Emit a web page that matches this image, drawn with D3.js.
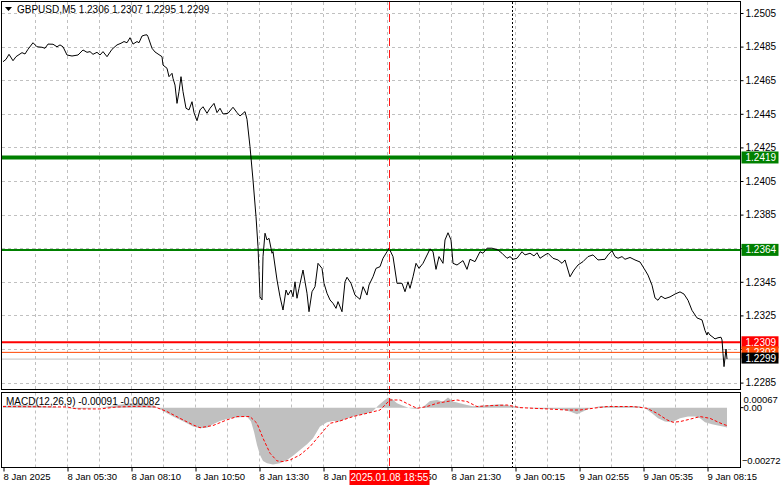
<!DOCTYPE html>
<html><head><meta charset="utf-8">
<script src="https://cdn.jsdelivr.net/npm/d3@7/dist/d3.min.js"></script>
<style>body{margin:0;background:#fff}svg{display:block;font-family:"Liberation Sans",Arial,sans-serif}</style>
</head><body><svg id="c" width="781" height="489"></svg>
<script>
// ---------- DATA ----------
const symbolTitle = "GBPUSD,M5  1.2306 1.2307 1.2295 1.2299";
const macdTitle = "MACD(12,26,9) -0.00091 -0.00082";
const cursorLabel = "2025.01.08 18:55";
const cursorBar = 193;
const separatorBar = 254.5;

const priceBars = [0,1.5,3,5,6.5,8,9.5,11,12.5,15,17,19.5,21,22.5,25,27,28.5,30,32,34.5,37.5,40,42,43.5,45,47,48.5,50,52,54.5,57,59,60.5,62,63.5,65,67,68,69.5,71,72,72.5,74.5,76,77.5,79.5,80,82,83,84.5,85,86,87,88,89,90,91.5,93,94.5,95.5,97,98.5,100,102,103.5,105.5,107,108.5,110,112.5,115,117,118.5,121,122,123.5,125,126.5,127.5,128.5,129.5,130,131,132,133,134.5,135,137,138.5,140,141.5,142.5,144,145,146,147,148,150,152,153,154.5,156,157.5,159.5,160.5,162,163.5,165,166.5,167.5,169.5,171,172,174,176,178.5,180,182,183,185,186.5,188.5,190,192,193,195,197,199.5,201,202.5,203.5,205,206.5,208,210,213.5,215,216.5,218,220,221,222.5,224,225,227,230,232,233.5,236,238.5,240,242,244.5,247.5,249.5,252,253.5,255,257,259.5,261,263.5,265.5,267,268.5,271,272.5,275,277.5,279.5,281,283.5,285.5,287.5,290,292.5,295,297.5,301,302.5,304.5,306,307.5,309.5,311,313.5,316,318.5,320.5,322.5,324.5,326,327.5,329,331,333.5,336,338.5,340.5,342.5,344.5,347,349.5,351,352,352.5,353.5,355,356,357.5,359,359.5,360,360.5,361.5,362];
const closes = [1.2476,1.24774,1.24804,1.24766,1.2479,1.24802,1.24814,1.24806,1.24834,1.24873,1.24849,1.24846,1.2484,1.24865,1.24864,1.24849,1.2486,1.24849,1.248,1.24794,1.248,1.2483,1.24816,1.2482,1.24804,1.24816,1.248,1.2482,1.2479,1.24834,1.2486,1.2487,1.2488,1.24873,1.24903,1.24865,1.2488,1.24873,1.24913,1.24919,1.2492,1.24909,1.2484,1.24818,1.24806,1.2479,1.2474,1.24721,1.24671,1.24691,1.24661,1.24621,1.24512,1.24582,1.24671,1.24582,1.24483,1.24473,1.24522,1.24457,1.24409,1.24473,1.24492,1.24453,1.24483,1.24512,1.24457,1.24483,1.24449,1.24453,1.24489,1.24457,1.24437,1.24463,1.24417,1.24254,1.24056,1.23838,1.23659,1.23361,1.23342,1.236,1.23739,1.23699,1.23709,1.2362,1.2363,1.23461,1.23361,1.23282,1.23401,1.23371,1.23401,1.23361,1.2345,1.23352,1.23411,1.2352,1.23382,1.23272,1.23391,1.23421,1.2356,1.2353,1.23441,1.23382,1.23342,1.23322,1.23292,1.23332,1.23272,1.2345,1.23477,1.23441,1.23371,1.23346,1.23421,1.23371,1.23431,1.2348,1.2353,1.2354,1.2359,1.23629,1.2365,1.236,1.23441,1.23441,1.23391,1.2345,1.23411,1.2348,1.2356,1.2353,1.2356,1.23645,1.2363,1.23524,1.236,1.2356,1.23699,1.23742,1.23699,1.2356,1.2355,1.23576,1.23524,1.23584,1.2357,1.23629,1.2362,1.2365,1.2365,1.23639,1.2362,1.2359,1.236,1.23584,1.2359,1.23629,1.2361,1.2362,1.23604,1.23623,1.2359,1.2361,1.2362,1.2359,1.2358,1.2356,1.2358,1.2348,1.2352,1.2355,1.2357,1.236,1.2361,1.2358,1.23584,1.2361,1.23635,1.236,1.2359,1.236,1.23584,1.23595,1.2358,1.23568,1.2353,1.2349,1.2343,1.23354,1.2334,1.23365,1.2335,1.2336,1.23377,1.2339,1.23377,1.2334,1.2328,1.23235,1.23223,1.2316,1.23133,1.2315,1.23133,1.2312,1.2311,1.23117,1.2312,1.23104,1.23024,1.22945,1.2305,1.2299];

const priceTicks = [1.2505,1.2485,1.2465,1.2445,1.2425,1.2405,1.2385,1.2365,1.2345,1.2325,1.2305,1.2285];
const levelPrices = [1.2419,1.2364,1.2309,1.2303,1.2299];

const timeLabelBars = [0,32,64,96,128,160,192,224,256,288,320,352];
const timeLabels = ["8 Jan 2025","8 Jan 05:30","8 Jan 08:10","8 Jan 10:50","8 Jan 13:30","8 Jan 16:10","8 Jan 18:50","8 Jan 21:30","9 Jan 00:15","9 Jan 02:55","9 Jan 05:35","9 Jan 08:15"];

const histBars = [0,8.5,18.5,26,32,38.5,48.5,57,63.5,71,75,78.5,82,85,88.5,92,95,98.5,102,105,108.5,112,115,118.5,122,124,125.5,127,128.5,130,132,135,138.5,142,145,148.5,152,155,158.5,162,165,168.5,172,175,178.5,182,185,187.5,190,192.5,194.5,197,200,203.5,207,210,213.5,217,220,222.5,225,228.5,232,235,238.5,243.5,248.5,253.5,258.5,263.5,271,278.5,283.5,287,290,293.5,298.5,306,313.5,318.5,321,324.5,327.5,331,334.5,338.5,342.5,346,348.5,351,354.5,357.5,360,362];
const histValues = [0.00009,0.00012,0.00009,0.00003,-0.00003,-0.00006,0,0.00012,0.0002,0.0002,0.00012,-0.00006,-0.00026,-0.00041,-0.00056,-0.00072,-0.00087,-0.00095,-0.00092,-0.00076,-0.00061,-0.00052,-0.00046,-0.00044,-0.00041,-0.00064,-0.0011,-0.00171,-0.00217,-0.00244,-0.00255,-0.0026,-0.00255,-0.0024,-0.0022,-0.00194,-0.00168,-0.0014,-0.00087,-0.00067,-0.00061,-0.00064,-0.00049,-0.00041,-0.00034,-0.00026,-0.00015,0.00009,0.00028,0.00046,0.0004,0.0002,0.00009,-0.00003,-0.00006,0.00003,0.0003,0.00035,0.00028,0.00046,0.00028,0.0002,0.00012,0.00006,0.00009,0.00012,0.00015,0.00009,0.00003,-0.00003,-0.00006,-0.00006,-0.00018,-0.0003,-0.00018,-0.00003,0.00006,0.00008,0.00008,0.00006,-0.00003,-0.00026,-0.00049,-0.00064,-0.00067,-0.00049,-0.00041,-0.00041,-0.00049,-0.00067,-0.00076,-0.00082,-0.00087,-0.00091];

const signalBars = [0,32,37,48.5,57,68.5,76,82,88.5,95,98.5,105,112,117,123.5,127,130,133.5,137,140,143.5,148.5,153.5,158.5,163.5,168.5,175,182,188.5,193.5,198.5,203.5,207,212,217,222,227,232,237,243.5,252,258.5,272,282,288.5,295,302,315,322,327,332,335,338.5,343.5,348.5,353.5,357,360,362];
const signalValues = [0.00005,0.00003,-0.00006,-0.00006,0.00003,0.00006,0.00003,-0.00018,-0.00049,-0.00079,-0.00092,-0.00082,-0.00056,-0.00041,-0.00041,-0.00072,-0.0014,-0.00209,-0.00244,-0.00247,-0.0024,-0.00217,-0.00179,-0.00125,-0.00072,-0.00061,-0.00041,-0.00026,-0.00011,0.00035,0.00035,0.00012,-0.00003,0.00005,0.0002,0.00028,0.00035,0.00028,0.00005,0.00009,0.00012,0,-0.00006,-0.00011,-0.00011,-0.00003,0.00005,0.00005,-0.00003,-0.00026,-0.00056,-0.00067,-0.00064,-0.00053,-0.00041,-0.00049,-0.00064,-0.00076,-0.00082];
const macdTicks = [0.00067,0,-0.00272];

// ---------- LAYOUT ----------
const L = 2, R = 740.5, mainTop = 2, mainBot = 389.5, mTop = 392.5, mBot = 467.5;
const FS = 9.5;
const svg = d3.select("#c");
const x = d3.scaleLinear().domain([0, 368]).range([3, 739]);
const y = d3.scaleLinear().domain([1.2285, 1.2505]).range([382.6, 13]);
const ym = d3.scaleLinear().domain([-0.00272, 0.00067]).range([467, 393]);
const gridCol = "#c0c0c0";

svg.append("rect").attr("width",781).attr("height",489).attr("fill","#fff");
const defs = svg.append("defs");
defs.append("clipPath").attr("id","cm").append("rect").attr("x",L).attr("y",mainTop).attr("width",R-L).attr("height",mainBot-mainTop);
defs.append("clipPath").attr("id","cd").append("rect").attr("x",L).attr("y",mTop).attr("width",R-L).attr("height",mBot-mTop);

// vertical grid (every 16 bars)
const vGrid = d3.range(16, 368, 16);
[[mainTop,mainBot],[mTop,mBot]].forEach(([t,b])=>{
  svg.append("g").selectAll("line").data(vGrid).join("line")
    .attr("x1",d=>Math.round(x(d))+0.5).attr("x2",d=>Math.round(x(d))+0.5)
    .attr("y1",t).attr("y2",b).attr("stroke",gridCol).attr("stroke-dasharray","3,3");
});
// horizontal grid
svg.append("g").selectAll("line").data(priceTicks).join("line")
  .attr("x1",L).attr("x2",R).attr("y1",d=>Math.round(y(d))+0.5).attr("y2",d=>Math.round(y(d))+0.5)
  .attr("stroke",gridCol).attr("stroke-dasharray","3,3");

// level lines
const levelColors = ["#008000","#008000","#ff0000","#ff4500","#c0c0c0"];
const levelWidths = [4,2,2,1,1];
const gl = svg.append("g").attr("clip-path","url(#cm)");
gl.selectAll("line").data(levelPrices).join("line")
  .attr("x1",L).attr("x2",R).attr("y1",d=>y(d)).attr("y2",d=>y(d))
  .attr("stroke",(d,i)=>levelColors[i]).attr("stroke-width",(d,i)=>levelWidths[i]);

// separators
svg.append("line").attr("x1",Math.round(x(separatorBar))+0.5).attr("x2",Math.round(x(separatorBar))+0.5)
  .attr("y1",mainTop).attr("y2",mBot).attr("stroke","#000").attr("stroke-dasharray","2,2");

// price line
const priceData = priceBars.map((b,i)=>[b,closes[i]]);
svg.append("path").datum(priceData).attr("clip-path","url(#cm)")
  .attr("d",d3.line().x(d=>x(d[0])).y(d=>y(d[1])))
  .attr("fill","none").attr("stroke","#000").attr("stroke-width",1);

// MACD histogram
const histData = histBars.map((b,i)=>[b,histValues[i]]);
svg.append("path").datum(histData).attr("clip-path","url(#cd)")
  .attr("d",d3.area().x(d=>x(d[0])).y0(ym(0)).y1(d=>ym(d[1])))
  .attr("fill","#c0c0c0");
const sigData = signalBars.map((b,i)=>[b,signalValues[i]]);
svg.append("path").datum(sigData).attr("clip-path","url(#cd)")
  .attr("d",d3.line().x(d=>x(d[0])).y(d=>ym(d[1])))
  .attr("fill","none").attr("stroke","#ff0000").attr("stroke-width",1).attr("stroke-dasharray","3,2");

// cursor line
svg.append("line").attr("x1",Math.round(x(cursorBar))+0.5).attr("x2",Math.round(x(cursorBar))+0.5)
  .attr("y1",mainTop).attr("y2",mBot).attr("stroke","#ff0000").attr("stroke-dasharray","8,4").attr("opacity",0.9);

// frames
svg.append("rect").attr("x",1.5).attr("y",1.5).attr("width",R-1.5).attr("height",mainBot-1.5).attr("fill","none").attr("stroke","#000");
svg.append("rect").attr("x",1.5).attr("y",mTop).attr("width",R-1.5).attr("height",mBot-mTop).attr("fill","none").attr("stroke","#000");

// price axis
const ax = svg.append("g").attr("transform",`translate(${R},0)`)
  .call(d3.axisRight(y).tickValues(priceTicks).tickSize(3).tickPadding(2).tickFormat(d3.format(".4f")));
ax.select(".domain").remove();
ax.selectAll("text").attr("font-size",10).attr("fill","#000").attr("font-family",null);
ax.selectAll("line").attr("stroke","#000");

// level labels (boxes)
const boxFill = ["#008000","#008000","#ff0000","#ff4500","#000000"];
const lb = svg.append("g");
levelPrices.forEach((p,i)=>{
  if (i===4) return;
  const g = lb.append("g").attr("transform",`translate(${R+1},${y(p)})`);
  g.append("rect").attr("x",0).attr("y",-6).attr("width",37).attr("height",12).attr("fill",boxFill[i]);
  g.append("text").attr("x",4).attr("y",0).attr("dy","0.35em").attr("font-size",10).attr("fill","#fff").text(d3.format(".4f")(p));
});
{
  const p = levelPrices[4];
  const g = lb.append("g").attr("transform",`translate(${R+1},${y(p)-1})`);
  g.append("rect").attr("x",0).attr("y",-5.5).attr("width",37).attr("height",11).attr("fill","#000");
  g.append("text").attr("x",4).attr("y",0).attr("dy","0.35em").attr("font-size",10).attr("fill","#fff").text(d3.format(".4f")(p));
}

// MACD axis
const mx = svg.append("g");
mx.append("text").attr("x",R+3).attr("y",ym(macdTicks[0])+7).attr("dy","0.35em").attr("font-size",FS).text(d3.format(".5f")(macdTicks[0]));
mx.append("line").attr("x1",R).attr("x2",R+3).attr("y1",ym(0)).attr("y2",ym(0)).attr("stroke","#000");
mx.append("text").attr("x",R+3).attr("y",ym(0)).attr("dy","0.35em").attr("font-size",FS).text("0.00");
mx.append("text").attr("x",R+1.5).attr("y",ym(macdTicks[2])-6).attr("dy","0.35em").attr("font-size",FS).attr("letter-spacing","-0.2").text(d3.format(".5f")(macdTicks[2]));

// time axis
const tx = svg.append("g").attr("transform",`translate(0,${mBot})`)
  .call(d3.axisBottom(x).tickValues(timeLabelBars).tickSize(4).tickPadding(2).tickFormat((d,i)=>timeLabels[i]));
tx.select(".domain").remove();
tx.selectAll("text").attr("font-size",FS).attr("text-anchor","start").attr("fill","#000").attr("font-family",null);
tx.selectAll("line").attr("stroke","#000").attr("transform","translate(0.5,0)");

// cursor label
const cx = Math.round(x(cursorBar))+0.5;
svg.append("rect").attr("x",cx-40).attr("y",470).attr("width",80).attr("height",15).attr("fill","#ff0000");
svg.append("text").attr("x",cx).attr("y",477.5).attr("dy","0.35em").attr("text-anchor","middle").attr("font-size",10).attr("fill","#fff").text(cursorLabel);

// titles
svg.append("path").attr("d","M5,7 L12,7 L8.5,11 Z").attr("fill","#000");
svg.append("text").attr("x",17).attr("y",9).attr("dy","0.35em").attr("font-size",10).text(symbolTitle);
svg.append("text").attr("x",6).attr("y",401).attr("dy","0.35em").attr("font-size",10).text(macdTitle);
</script></body></html>
